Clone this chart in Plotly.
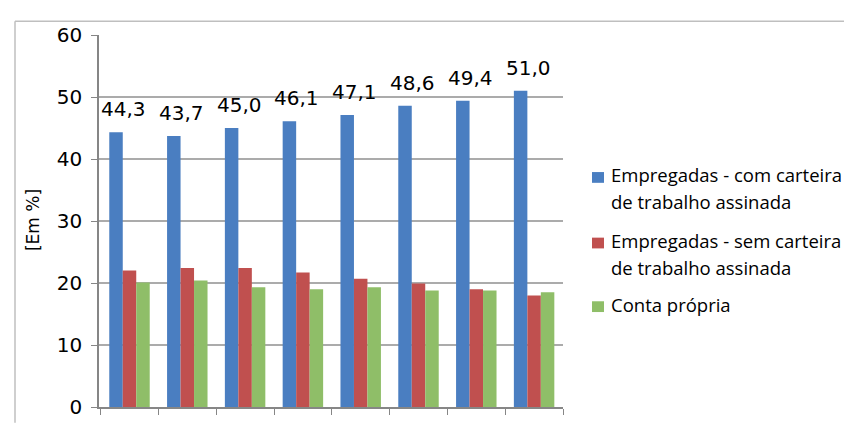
import plotly.graph_objects as go

categories = ["1", "2", "3", "4", "5", "6", "7", "8"]
com_carteira = [44.3, 43.7, 45.0, 46.1, 47.1, 48.6, 49.4, 51.0]
sem_carteira = [22.0, 22.4, 22.4, 21.7, 20.7, 19.9, 19.0, 18.0]
conta_propria = [20.1, 20.4, 19.3, 19.0, 19.3, 18.8, 18.8, 18.5]
series_names = [
    "Empregadas - com carteira<br>de trabalho assinada",
    "Empregadas - sem carteira<br>de trabalho assinada",
    "Conta própria",
]
colors = ["#4A7EC1", "#C0504F", "#8FBE68"]
y_ticks = [0, 10, 20, 30, 40, 50, 60]

W, H = 852, 423
L, R, T, B = 91, 555, 27, 407


def px(x):
    return (x - L) / (R - L)


def py(y):
    return (B - y) / (B - T)


fig = go.Figure()
for name, vals, c in zip(series_names, [com_carteira, sem_carteira, conta_propria], colors):
    fig.add_trace(go.Bar(x=categories, y=vals, name=name, marker=dict(color=c, line=dict(width=0)),
                         showlegend=False))

annotations = []
for i, v in enumerate(com_carteira):
    annotations.append(dict(x=i, y=v, xref="x", yref="y", text=f"{v:.1f}".replace(".", ","),
                            showarrow=False, yanchor="bottom", xanchor="center", xshift=-6, yshift=9,
                            font=dict(family="DejaVu Sans", size=20, color="#000000")))

# Legend drawn with annotations + square swatches
legend_lines = [
    (173, "Empregadas - com carteira", 0),
    (200, "de trabalho assinada", None),
    (240, "Empregadas - sem carteira", 1),
    (267, "de trabalho assinada", None),
    (305, "Conta própria", 2),
]
shapes = []
for yy, txt, ci in legend_lines:
    annotations.append(dict(x=px(601), y=py(yy - 3), xref="paper", yref="paper", text=txt, showarrow=False,
                            xanchor="left", yanchor="middle",
                            font=dict(family="Open Sans", size=18.5, color="#000000")))
    if ci is not None:
        shapes.append(dict(type="rect", xref="paper", yref="paper", x0=px(584), x1=px(596),
                           y0=py(yy - 6), y1=py(yy + 5), fillcolor=colors[ci], line=dict(width=0)))

# y-axis title
annotations.append(dict(x=px(25), y=py(216), xref="paper", yref="paper", text="[Em %]", showarrow=False,
                        textangle=-90, xanchor="center", yanchor="middle",
                        font=dict(family="DejaVu Sans", size=17, color="#000000")))

# outer chart border (left and top)
shapes.append(dict(type="line", xref="paper", yref="paper", x0=px(7), x1=px(7), y0=py(13), y1=py(423),
                   line=dict(color="#BFBFBF", width=1.5)))
shapes.append(dict(type="line", xref="paper", yref="paper", x0=px(7), x1=px(852), y0=py(13), y1=py(13),
                   line=dict(color="#BFBFBF", width=1.5)))

fig.update_layout(
    width=W, height=H,
    margin=dict(l=L, r=W - R, t=T, b=H - B, pad=0),
    plot_bgcolor="white", paper_bgcolor="white",
    barmode="group", bargap=0.3, bargroupgap=0,
    annotations=annotations, shapes=shapes,
    showlegend=False,
)
fig.update_xaxes(type="category", showticklabels=False, tickson="boundaries", ticks="outside", ticklen=6,
                 tickcolor="#868686", showline=True, linecolor="#868686", linewidth=1.5, showgrid=False)
fig.update_yaxes(range=[0, 60], tickvals=y_ticks, ticks="outside", ticklen=6, tickcolor="#868686",
                 showline=True, linecolor="#868686", linewidth=1.5, gridcolor="#ABABAB", gridwidth=1.5,
                 zeroline=False, ticklabelstandoff=5,
                 tickfont=dict(family="DejaVu Sans", size=20, color="#000000"))

fig.write_html("out.html")
